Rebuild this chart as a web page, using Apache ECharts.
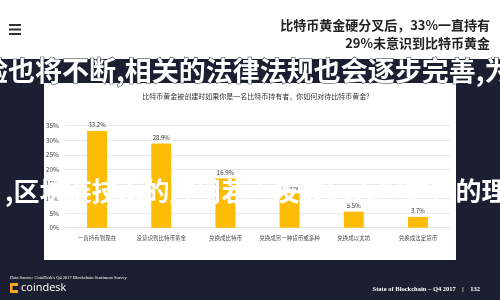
<!DOCTYPE html>
<html>
<head>
<meta charset="utf-8">
<script src="https://cdn.jsdelivr.net/npm/echarts@6/dist/echarts.min.js"></script>
<style>
html,body{margin:0;padding:0;background:#1c1f31;}
#c{width:500px;height:300px;}
</style>
</head>
<body>
<div id="c"></div>
<script>
const categories = ['一直持有到现在', '没意识到比特币黄金', '兑换成比特币', '兑换成另一种货币或多种', '兑换成以太坊', '兑换成法定货币'];
const shares = [33.2, 28.9, 16.9, 11.8, 5.5, 3.7];
const yTicks = [0, 5, 10, 15, 20, 25, 30, 35];

const F = '"Noto Sans CJK SC", "Noto Sans", sans-serif';
const chart = echarts.init(document.getElementById('c'), null, {renderer: 'canvas'});
chart.setOption({
  animation: false,
  backgroundColor: '#1c1f31',
  title: {
    text: '比特币黄金被创建时如果你是一名比特币持有者，你如何对待比特币黄金?',
    left: 251, top: 88, textAlign: 'center',
    textStyle: {fontFamily: F, fontSize: 7, fontWeight: 'normal', color: '#333'}
  },
  grid: {left: 65, right: 50, top: 125.7, bottom: 72.3},
  xAxis: {
    type: 'category', data: categories,
    axisLine: {show: true, lineStyle: {color: '#e4e4e4'}},
    axisTick: {show: false},
    axisLabel: {fontFamily: F, fontSize: 5.5, color: '#444', margin: 7, interval: 0}
  },
  yAxis: {
    type: 'value', min: 0, max: 35, interval: 5,
    axisLine: {show: false}, axisTick: {show: false},
    splitLine: {lineStyle: {color: '#e8e8e8', width: 1}},
    axisLabel: {fontFamily: F, fontSize: 6.5, color: '#444', margin: 6,
      formatter: v => yTicks.includes(v) ? v + '%' : ''}
  },
  series: [{
    type: 'bar', data: shares, barWidth: 20,
    itemStyle: {color: '#fcbc05'},
    label: {show: true, position: 'top', distance: 3, fontFamily: F, fontSize: 6, color: '#333',
      formatter: p => p.value.toFixed(1) + '%'}
  }],
  graphic: [
    {type: 'rect', z: -10, shape: {x: 0, y: 0, width: 500, height: 59}, style: {fill: '#ffffff'}},
    {type: 'rect', z: -10, shape: {x: 44, y: 83, width: 412, height: 177}, style: {fill: '#ffffff'}},
    {type: 'rect', z: 10, shape: {x: 9, y: 24, width: 12, height: 2}, style: {fill: '#333'}},
    {type: 'rect', z: 10, shape: {x: 9, y: 28.5, width: 12, height: 2}, style: {fill: '#333'}},
    {type: 'rect', z: 10, shape: {x: 9, y: 33, width: 12, height: 2}, style: {fill: '#333'}},
    {type: 'text', z: 10, style: {x: 490, y: 25, text: '比特币黄金硬分叉后，33%一直持有', align: 'right', verticalAlign: 'middle',
      font: 'bold 13px ' + F, fill: '#222'}},
    {type: 'text', z: 10, style: {x: 490, y: 43, text: '29%未意识到比特币黄金', align: 'right', verticalAlign: 'middle',
      font: 'bold 13px ' + F, fill: '#222'}},
    {type: 'text', z: 100, style: {x: -19, y: 71, text: '验也将不断,相关的法律法规也会逐步完善,为', verticalAlign: 'middle',
      font: 'bold 27px ' + F, fill: '#ffffff', stroke: '#1c1f31', lineWidth: 1}},
    {type: 'text', z: 100, style: {x: 5, y: 191, text: ',区块链技术的应用若再发展后人们对它的理', verticalAlign: 'middle',
      font: 'bold 26px ' + F, fill: '#ffffff'}},
    {type: 'text', z: 10, style: {x: 10, y: 278, text: "Data Source: CoinDesk's Q4 2017 Blockchain Sentiment Survey", verticalAlign: 'middle',
      font: '4.5px "Liberation Serif", serif', fill: '#ffffff'}},
    {type: 'rect', z: 10, shape: {x: 10, y: 283, width: 8, height: 10}, style: {fill: '#f4a81d'}},
    {type: 'rect', z: 11, shape: {x: 12.5, y: 286, width: 5.5, height: 4}, style: {fill: '#1c1f31'}},
    {type: 'text', z: 10, style: {x: 21, y: 288, text: 'coindesk', verticalAlign: 'middle',
      font: '11px "Open Sans", sans-serif', fill: '#ffffff'}},
    {type: 'text', z: 10, style: {x: 480, y: 289, text: 'State of Blockchain – Q4 2017    |    132', align: 'right', verticalAlign: 'middle',
      font: 'bold 6.5px "Liberation Serif", serif', fill: '#ffffff'}}
  ]
});
</script>
</body>
</html>
